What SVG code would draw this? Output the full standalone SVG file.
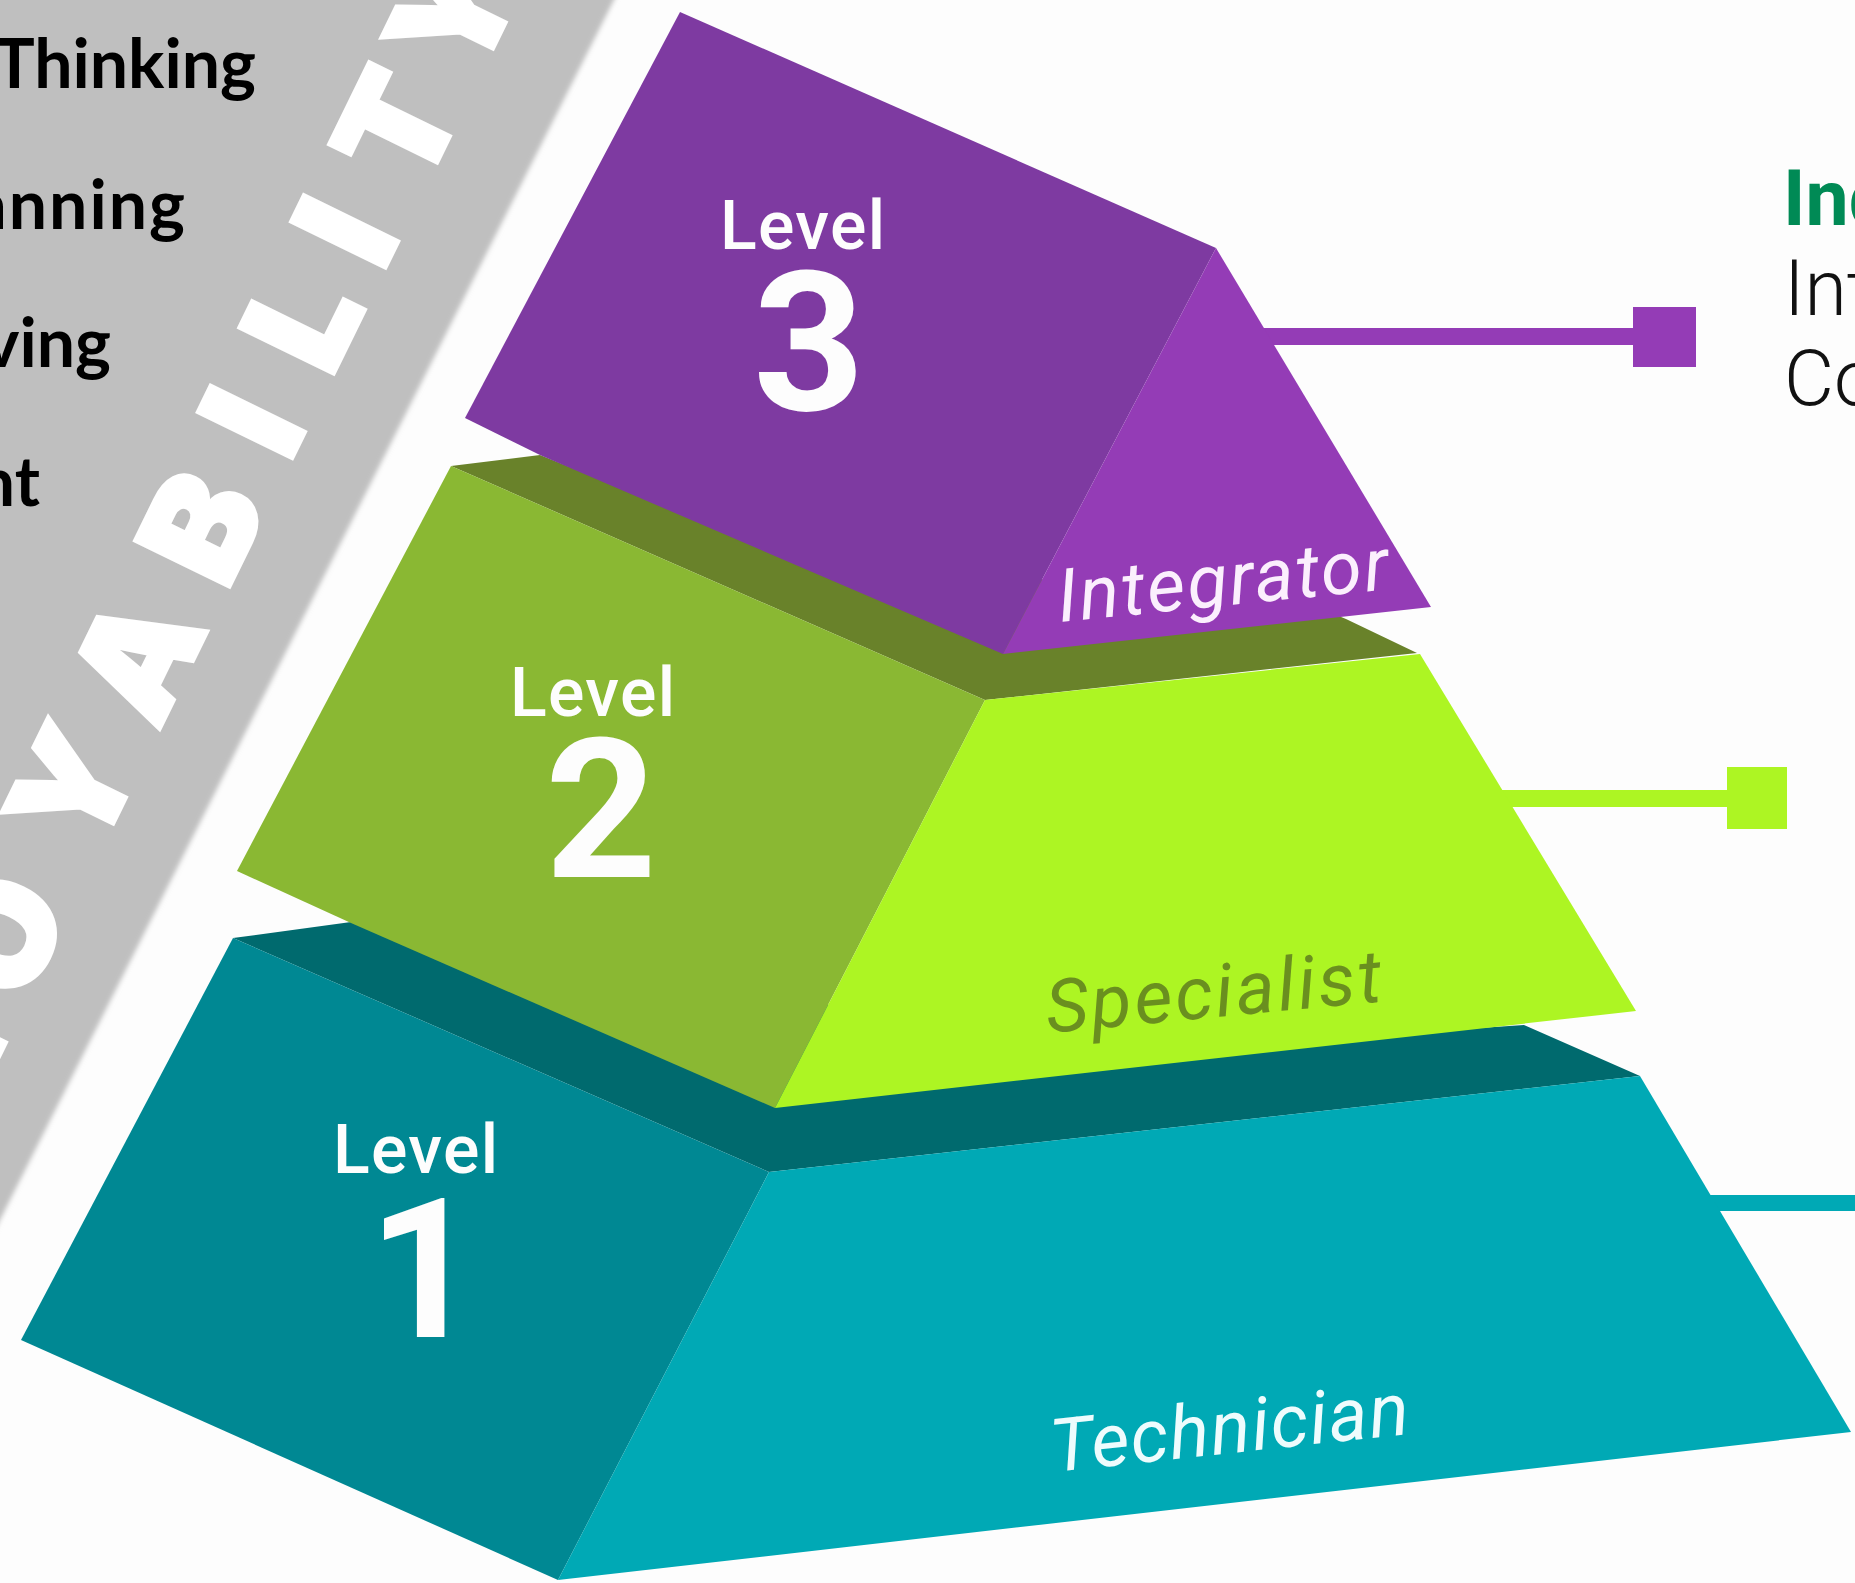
<svg xmlns="http://www.w3.org/2000/svg" width="1855" height="1583" viewBox="0 0 1855 1583">
<style>
.sk{font-family:Lato,"Noto Sans",sans-serif;font-weight:700;font-size:68px;fill:#000;text-anchor:end}
.band{font-family:Inter,"Liberation Sans",sans-serif;font-weight:900;font-size:143px;fill:#fff;stroke:#fff;stroke-width:5}
.lv{font-family:Roboto,"Liberation Sans",sans-serif;font-weight:500;font-size:68px;fill:#fdfdfd}
.num{font-family:Roboto,"Liberation Sans",sans-serif;font-weight:700;font-size:195px;fill:#fdfdfd;text-anchor:middle}
.role{font-family:Roboto,"Liberation Sans",sans-serif;font-style:italic;font-weight:400;font-size:74px}
.rt{font-family:Roboto,"Liberation Sans",sans-serif;font-size:77px;fill:#111;font-weight:300}
</style>
<defs><filter id="soft" x="-5%" y="-5%" width="110%" height="110%"><feGaussianBlur stdDeviation="2.5"/></filter></defs>
<rect width="1855" height="1583" fill="#fdfdfd"/>
<polygon points="-20,-20 624,-20 614,0 0,1220 -20,1260" fill="#bfbfbf" filter="url(#soft)"/>
<g id="skills">
<text class="sk" x="256" y="88">Thinking</text>
<text class="sk" x="187" y="229" letter-spacing="2">anning</text>
<text class="sk" x="111" y="367">ving</text>
<text class="sk" x="40" y="506">nt</text>
</g>
<text class="band" transform="translate(231 582) rotate(-63.9)" x="-590 -473 -310 -166 -11 132 226 344 433 553" y="0">LOYABILITY</text>
<g id="connectors">
<rect x="1255" y="328" width="380" height="17" fill="#943cb6"/>
<rect x="1490" y="790" width="240" height="17" fill="#adf523"/>
<rect x="1700" y="1195" width="155" height="16" fill="#00a9b5"/>
</g>
<g id="level-3">
<polygon points="451,466 540,455 800,560 1300,600 1346,619 1417,653 985,700" fill="#69822a"/>
<polygon points="680,12 1216,248 1003,654 540,455 465,418" fill="#7e3aa1"/>
<polygon points="1216,248 1431,607 1003,654" fill="#943cb6"/>
<rect x="1633" y="307" width="63" height="60" fill="#943cb6"/>
<text class="lv" x="720" y="249" textLength="165">Level</text>
<text class="num" x="809" y="410">3</text>
<text class="role" transform="translate(1060 622) rotate(-5.7)" fill="#fbeffd" textLength="332">Integrator</text>
</g>
<g id="level-2">
<polygon points="233,938 351,922 500,980 1300,1040 1524,1025 1640,1076 769,1172" fill="#006a6e"/>
<polygon points="451,466 985,700 775,1108 351,923 237,871" fill="#8ab833"/>
<polygon points="985,700 1420,654 1636,1011 775,1108" fill="#adf523"/>
<rect x="1727" y="767" width="60" height="62" fill="#adf523"/>
<text class="lv" x="510" y="716" textLength="165">Level</text>
<text class="num" x="601" y="877">2</text>
<text class="role" transform="translate(1048 1033) rotate(-5.4)" fill="#6a8f1f" textLength="337">Specialist</text>
</g>
<g id="level-1">
<polygon points="233,938 769,1172 558,1580 21,1340" fill="#008893"/>
<polygon points="769,1172 1640,1076 1851,1432 558,1580" fill="#00a9b5"/>
<text class="lv" x="333" y="1173" textLength="165">Level</text>
<text class="num" x="424" y="1337">1</text>
<text class="role" transform="translate(1053 1472) rotate(-6.1)" fill="#eefcfd" textLength="360">Technician</text>
</g>
<g id="level-text">
<text class="rt" x="1783" y="225" style="fill:#008a55;font-weight:700">Ind</text>
<text class="rt" x="1784" y="315">Int</text>
<text class="rt" x="1784" y="405">Co</text>
</g>
</svg>
